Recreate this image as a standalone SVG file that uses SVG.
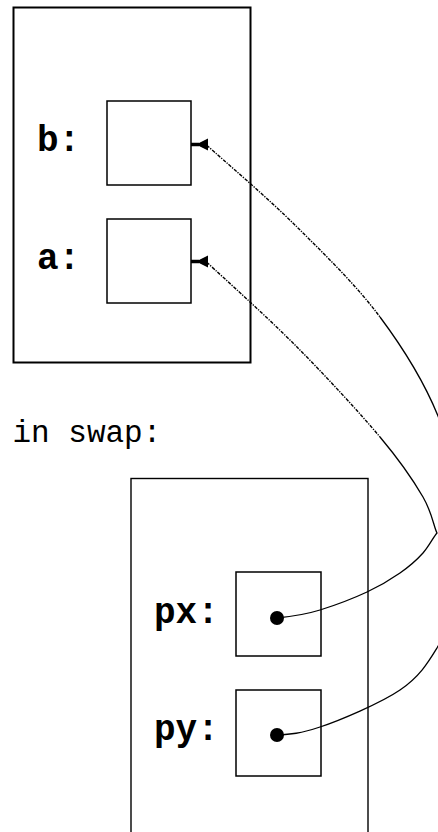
<svg xmlns="http://www.w3.org/2000/svg" width="438" height="832" viewBox="0 0 438 832">
<style>
.frame{fill:none;stroke:#000;stroke-width:2}
.frame2{fill:none;stroke:#000;stroke-width:1.4}
.cell{fill:#fff;stroke:#000;stroke-width:1.5}
.lbl{font-family:"Liberation Mono","DejaVu Sans Mono",monospace;font-weight:bold;font-size:36px;fill:#000}
.title{font-family:"Liberation Mono","DejaVu Sans Mono",monospace;font-size:31px;fill:#000}
.wire{fill:none;stroke:#000;stroke-width:1.3}
.lead{fill:none;stroke:#000;stroke-width:1.4;stroke-dasharray:3.5 1.2 1.3 1.2}
.dot{fill:#000}
</style>
<defs>
<g id="arrow">
<path d="M0,0 H8" stroke="#000" stroke-width="3.5" fill="none"/>
<polygon points="5,0 17,-6 17,6" fill="#000"/>
</g>
</defs>
<rect width="438" height="832" fill="#fff"/>

<g id="main-frame">
<rect class="frame" x="13.5" y="7.5" width="237" height="355"/>
</g>
<g id="var-b">
<rect class="cell" x="107" y="101" width="84" height="84"/>
<text class="lbl" x="37" y="150.5">b:</text>
</g>
<g id="var-a">
<rect class="cell" x="107" y="219" width="84" height="84"/>
<text class="lbl" x="37" y="268.5">a:</text>
</g>
<g id="swap-title">
<text class="title" x="12.5" y="442">in swap:</text>
</g>
<g id="swap-frame">
<rect class="frame2" x="131" y="478.5" width="237" height="400"/>
</g>
<g id="var-px">
<rect class="cell" x="236" y="572" width="85" height="84"/>
<text class="lbl" x="154" y="622.5">px:</text>
<circle class="dot" cx="277" cy="618" r="7"/>
</g>
<g id="var-py">
<rect class="cell" x="236" y="690" width="85" height="86"/>
<text class="lbl" x="154" y="739.5">py:</text>
<circle class="dot" cx="277" cy="735" r="7"/>
</g>

<g id="connectors">
<!-- py -> b -->
<path class="lead" d="M207,145.5 C222.8,159.5 268.3,198.5 297,227 C325.7,255.5 356.5,285.5 380,317"/>
<path class="wire" d="M380,317 C403.5,348.5 424.3,382.2 438,416 C451.7,449.8 459.2,489.3 462,520 C464.8,550.7 459.2,578.7 455,600 C450.8,621.3 446.2,633 437,648 C427.8,663 419.5,676.7 400,690 C380.5,703.3 339.3,720.5 320,727 C300.7,733.5 290,734.5 277,735"/>
<use href="#arrow" x="191" y="144.5"/>
<!-- px -> a -->
<path class="lead" d="M207,262.5 C222.8,277 268.3,318 297,347 C325.7,376 359,412 380,437"/>
<path class="wire" d="M380,437 C401,462 413.7,481 423,497 C432.3,513 433.8,527 437,533 C433.8,536.3 429,546.3 423,553 C417,559.7 409.3,566.5 400,573 C390.7,579.5 380.3,585.8 367,592 C353.7,598.2 333.8,605.7 320,610 C306.2,614.3 290,616.7 277,618"/>
<use href="#arrow" x="191" y="261.5"/>
</g>
</svg>
